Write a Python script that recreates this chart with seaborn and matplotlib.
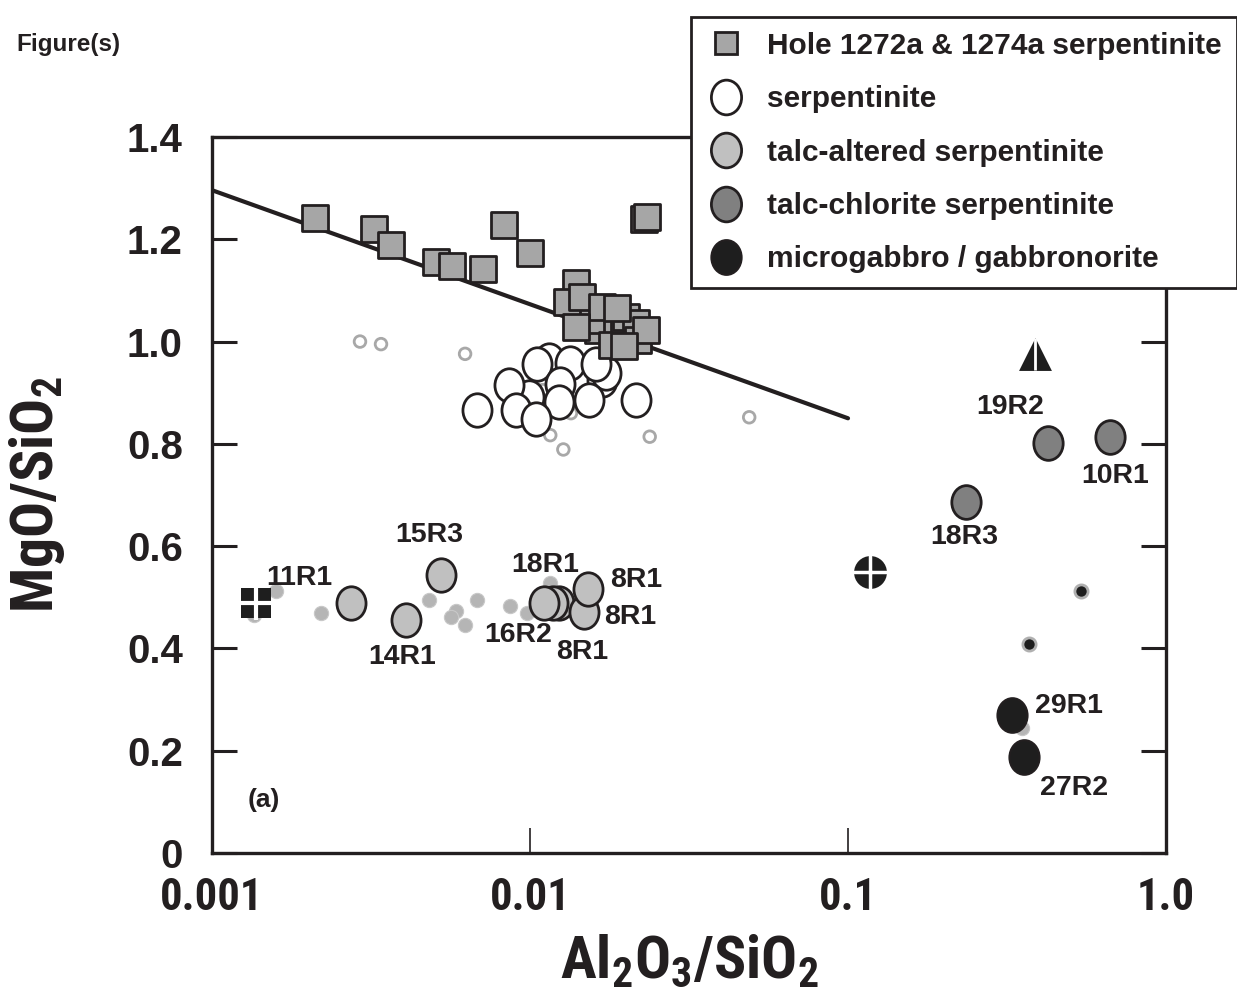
import numpy as np
import pandas as pd
import matplotlib
matplotlib.use("Agg")
import matplotlib.pyplot as plt
import matplotlib.transforms as mtrans
from matplotlib.path import Path
from matplotlib.lines import Line2D
from matplotlib import font_manager
import seaborn as sns

# ---------------- data ----------------
# Hole 1272a & 1274a serpentinite (squares)
hole_x = [0.00211, 0.00323, 0.00365, 0.00506, 0.00568, 0.00711, 0.00828, 0.0100, 0.0228, 0.0233,
          0.0140, 0.0164, 0.0156, 0.0201, 0.0216, 0.0219, 0.01304, 0.01458, 0.01685, 0.01878,
          0.0140, 0.0232, 0.01811, 0.01977]
hole_y = [1.241, 1.220, 1.189, 1.155, 1.148, 1.142, 1.228, 1.173, 1.240, 1.243,
          1.114, 1.022, 1.042, 1.048, 1.036, 1.003, 1.078, 1.087, 1.067, 1.066,
          1.028, 1.022, 0.993, 0.991]

# serpentinite (open ellipses)
serp_x = [0.0115, 0.0168, 0.0173, 0.00993, 0.0105, 0.01336, 0.0161, 0.00859, 0.01240,
          0.00680, 0.00902, 0.01233, 0.01534, 0.0215, 0.01042]
serp_y = [0.964, 0.925, 0.938, 0.892, 0.957, 0.958, 0.957, 0.915, 0.918,
          0.866, 0.866, 0.882, 0.886, 0.886, 0.848]

# talc-altered serpentinite
talc_x = [0.00274, 0.00525, 0.00407, 0.0123, 0.0118, 0.0111, 0.0148, 0.01518]
talc_y = [0.489, 0.543, 0.455, 0.489, 0.489, 0.489, 0.472, 0.517]

# talc-chlorite serpentinite
tchl_x = [0.4256, 0.667, 0.235]
tchl_y = [0.802, 0.813, 0.686]

# microgabbro / gabbronorite
gab_x = [0.328, 0.357]
gab_y = [0.270, 0.188]

# small grey open circles
sgo_x = [0.00292, 0.00340, 0.00625, 0.01096, 0.01345, 0.01158, 0.01273, 0.02379, 0.0489]
sgo_y = [1.000, 0.995, 0.976, 0.905, 0.860, 0.817, 0.789, 0.814, 0.852]

# small grey filled circles
sgf_x = [0.00159, 0.00136, 0.00220, 0.00482, 0.00585, 0.00564, 0.00625, 0.00680, 0.00865,
         0.00979, 0.01158, 0.352]
sgf_y = [0.512, 0.465, 0.469, 0.495, 0.474, 0.461, 0.445, 0.495, 0.483,
         0.469, 0.527, 0.245]

# small black dots with grey ring
sbd_x = [0.541, 0.371]
sbd_y = [0.512, 0.409]

# special symbols
sq_cross_x, sq_cross_y = [0.001375], [0.489]
ci_cross_x, ci_cross_y = [0.1172], [0.549]
tri_x, tri_y = [0.387], [0.976]

# reference line
line_x = [0.001, 0.1]
line_y = [1.296, 0.850]

# labels
lab_text = ["11R1", "15R3", "14R1", "18R1", "8R1", "8R1", "16R2", "8R1",
            "19R2", "10R1", "18R3", "29R1", "27R2"]
lab_x = [0.001878, 0.00481, 0.00396, 0.01115, 0.02154, 0.02063, 0.00917, 0.01457,
         0.323, 0.692, 0.2317, 0.4955, 0.514]
lab_y = [0.538, 0.622, 0.383, 0.563, 0.534, 0.461, 0.426, 0.393,
         0.872, 0.737, 0.618, 0.287, 0.127]

legend_labels = ["Hole 1272a & 1274a serpentinite", "serpentinite",
                 "talc-altered serpentinite", "talc-chlorite serpentinite",
                 "microgabbro / gabbronorite"]

xticks = [0.001, 0.01, 0.1, 1.0]
xtick_labels = ["0.001", "0.01", "0.1", "1.0"]
yticks = [0, 0.2, 0.4, 0.6, 0.8, 1.0, 1.2, 1.4]
ytick_labels = ["0", "0.2", "0.4", "0.6", "0.8", "1.0", "1.2", "1.4"]

# ---------------- style ----------------
sns.set_theme(style="white")
plt.rcParams['font.family'] = ['Liberation Sans', 'DejaVu Sans']
plt.rcParams['font.weight'] = 'bold'

# find a condensed font if any
entries = font_manager.fontManager.ttflist
names = {f.name for f in entries}
narrow_family, narrow_stretch, narrow_pattern = None, 'normal', None
for cand in ['Liberation Sans Narrow', 'Arial Narrow', 'Roboto Condensed', 'Open Sans Condensed']:
    if cand in names:
        narrow_family, narrow_pattern = cand, cand + ':bold'
        break
if narrow_family is None:
    for f in entries:
        if f.name == 'DejaVu Sans' and str(f.stretch) == 'condensed' and f.weight in ('bold', 700):
            narrow_family, narrow_stretch = 'DejaVu Sans', 'condensed'
            narrow_pattern = 'DejaVu Sans:bold:condensed'
            break

plt.rcParams['mathtext.fontset'] = 'custom'
if narrow_family is not None:
    plt.rcParams['mathtext.bf'] = narrow_pattern
    plt.rcParams['mathtext.rm'] = narrow_pattern
    plt.rcParams['mathtext.it'] = narrow_pattern
    xt_family, xt_size, lab_size = narrow_family, 32, 43
else:
    plt.rcParams['mathtext.bf'] = 'Liberation Sans:bold'
    plt.rcParams['mathtext.rm'] = 'Liberation Sans:bold'
    plt.rcParams['mathtext.it'] = 'Liberation Sans:bold'
    xt_family, xt_size, lab_size = 'Liberation Sans', 28, 37
plt.rcParams['mathtext.default'] = 'bf'

TXT = '#231f20'
EDGE = '#231f20'

ell = Path.unit_circle().transformed(mtrans.Affine2D().scale(0.87, 1.0))

fig = plt.figure(figsize=(12.37, 10.0), dpi=100)
ax = fig.add_axes([212/1237, 1-853/1000, (1166-212)/1237, (853-137)/1000])
ax.set_xscale('log')

def df(x, y):
    return pd.DataFrame({'x': x, 'y': y})

# small background symbols
sns.scatterplot(data=df(sgo_x, sgo_y), x='x', y='y', ax=ax, marker='o', s=70,
                facecolor='none', edgecolor='#a8a8a8', linewidth=2.0, zorder=2)
sns.scatterplot(data=df(sgf_x, sgf_y), x='x', y='y', ax=ax, marker='o', s=105,
                color='#b5b5b5', edgecolor='#c8c8c8', linewidth=0.8, zorder=2)
sns.scatterplot(data=df(sbd_x, sbd_y), x='x', y='y', ax=ax, marker='o', s=90,
                color='#1e1e1e', edgecolor='#b0b0b0', linewidth=2.0, zorder=2)

# serpentinite ellipses
sns.scatterplot(data=df(serp_x, serp_y), x='x', y='y', ax=ax, marker=ell, s=580,
                color='white', edgecolor=EDGE, linewidth=2.0, zorder=3)

# line
sns.lineplot(x=line_x, y=line_y, ax=ax, color=EDGE, linewidth=3.0, zorder=4)

# squares
sns.scatterplot(data=df(hole_x, hole_y), x='x', y='y', ax=ax, marker='s', s=330,
                color='#a6a6a6', edgecolor=EDGE, linewidth=2.0, zorder=5)

# talc-altered
sns.scatterplot(data=df(talc_x, talc_y), x='x', y='y', ax=ax, marker=ell, s=580,
                color='#c0c0c0', edgecolor=EDGE, linewidth=2.0, zorder=5)
# talc-chlorite
sns.scatterplot(data=df(tchl_x, tchl_y), x='x', y='y', ax=ax, marker=ell, s=590,
                color='#808080', edgecolor=EDGE, linewidth=2.0, zorder=5)
# microgabbro
sns.scatterplot(data=df(gab_x, gab_y), x='x', y='y', ax=ax, marker=ell, s=620,
                color='#1e1e1e', edgecolor=EDGE, linewidth=1.5, zorder=5)

# special symbols
sns.scatterplot(data=df(sq_cross_x, sq_cross_y), x='x', y='y', ax=ax, marker='s', s=470,
                color='#1e1e1e', edgecolor='#1e1e1e', linewidth=0, zorder=5)
sns.scatterplot(data=df(sq_cross_x, sq_cross_y), x='x', y='y', ax=ax, marker='+', s=600,
                color='white', linewidth=3.0, zorder=6)
sns.scatterplot(data=df(ci_cross_x, ci_cross_y), x='x', y='y', ax=ax, marker='o', s=560,
                color='#1e1e1e', edgecolor='#1e1e1e', linewidth=0, zorder=5)
sns.scatterplot(data=df(ci_cross_x, ci_cross_y), x='x', y='y', ax=ax, marker='+', s=600,
                color='white', linewidth=2.5, zorder=6)
sns.scatterplot(data=df(tri_x, tri_y), x='x', y='y', ax=ax, marker='^', s=560,
                color='#1e1e1e', edgecolor='#1e1e1e', linewidth=0, zorder=5)
sns.scatterplot(data=df(tri_x, tri_y), x='x', y='y', ax=ax, marker='|', s=560,
                color='white', linewidth=2.0, zorder=6)

# labels
for t, xx, yy in zip(lab_text, lab_x, lab_y):
    ax.text(xx, yy, t, ha='center', va='center', fontsize=20.5, fontweight='bold',
            color=TXT, zorder=7)
ax.text(0.001458, 0.104, "(a)", ha='center', va='center', fontsize=19, fontweight='bold',
        color=TXT)

# axes
ax.set_xlim(0.001, 1.0)
ax.set_ylim(0, 1.4)
ax.set_xticks(xticks)
ax.set_xticklabels(xtick_labels)
ax.xaxis.set_minor_locator(matplotlib.ticker.NullLocator())
ax.set_yticks(yticks)
ax.set_yticklabels(ytick_labels)
for lab in ax.get_xticklabels():
    lab.set_fontfamily([xt_family, 'Liberation Sans'])
    lab.set_fontstretch(narrow_stretch)
    lab.set_fontsize(xt_size)
    lab.set_fontweight('bold')
    lab.set_color(TXT)
for lab in ax.get_yticklabels():
    lab.set_fontsize(29)
    lab.set_fontweight('bold')
    lab.set_color(TXT)
ax.tick_params(axis='y', which='major', direction='in', length=18, width=2.2,
               color=EDGE, pad=21, left=True, right=True)
ax.tick_params(axis='x', which='major', direction='in', length=18, width=1.2,
               color=EDGE, pad=17, bottom=True, top=False)
for sp in ax.spines.values():
    sp.set_linewidth(2.4)
    sp.set_color(EDGE)

ax.set_xlabel(r'$\mathbf{Al_2O_3/SiO_2}$', fontsize=lab_size, color=TXT)
ax.set_ylabel(r'$\mathbf{MgO/SiO_2}$', fontsize=lab_size, color=TXT)
ax.xaxis.set_label_coords(0.5, -0.112)
ax.yaxis.set_label_coords(-0.152, 0.5)

fig.text(16/1237, 1-44/1000, "Figure(s)", fontsize=17.5, fontweight='bold', color=TXT,
         ha='left', va='center')

# legend
handles = [
    Line2D([], [], linestyle='none', marker='s', markersize=16, markerfacecolor='#a6a6a6',
           markeredgecolor=EDGE, markeredgewidth=2.0),
    Line2D([], [], linestyle='none', marker=ell, markersize=25, markerfacecolor='white',
           markeredgecolor=EDGE, markeredgewidth=2.0),
    Line2D([], [], linestyle='none', marker=ell, markersize=25, markerfacecolor='#c0c0c0',
           markeredgecolor=EDGE, markeredgewidth=2.0),
    Line2D([], [], linestyle='none', marker=ell, markersize=25, markerfacecolor='#808080',
           markeredgecolor=EDGE, markeredgewidth=2.0),
    Line2D([], [], linestyle='none', marker=ell, markersize=25, markerfacecolor='#1e1e1e',
           markeredgecolor=EDGE, markeredgewidth=1.5),
]
leg = fig.legend(handles, legend_labels, loc='upper right',
                 bbox_to_anchor=(1.0, 1 - 17/1000), bbox_transform=fig.transFigure,
                 frameon=True, fancybox=False, framealpha=1, edgecolor=EDGE,
                 prop={'weight': 'bold', 'size': 21.5, 'family': 'Liberation Sans'},
                 labelspacing=0.85, handletextpad=0.75, handlelength=1.3,
                 borderpad=0.5, borderaxespad=0)
leg.get_frame().set_linewidth(2.0)
for t in leg.get_texts():
    t.set_color(TXT)

fig.savefig("out.png", dpi=100, facecolor='white')
